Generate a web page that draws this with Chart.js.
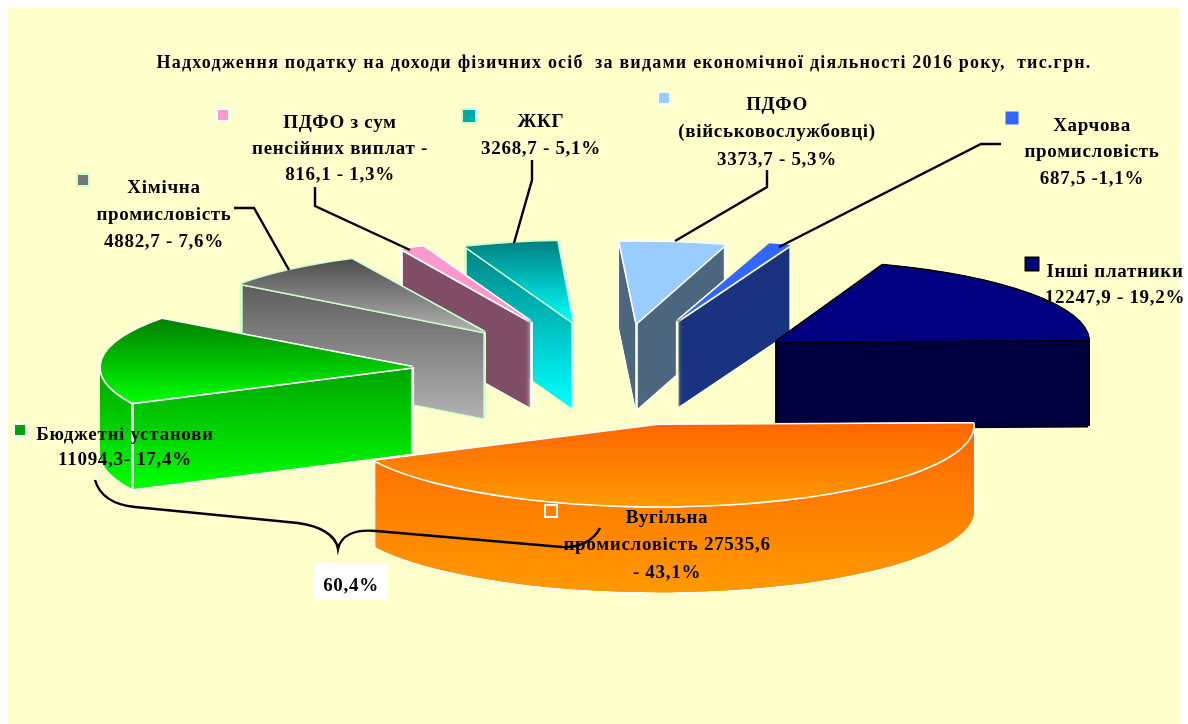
<!DOCTYPE html>
<html>
<head>
<meta charset="utf-8">
<style>
  html, body { margin: 0; padding: 0; background: #fff; }
  canvas { display: block; }
</style>
<script src="https://cdn.jsdelivr.net/npm/chart.js@4/dist/chart.umd.min.js"></script>
</head>
<body>
<canvas id="canvas" width="1188" height="724"></canvas>
<script>
// data, clockwise from the top of the pie
let categories = [
  'ПДФО (військовослужбовці)', 'Харчова промисловість', 'Інші платники',
  'Вугільна промисловість', 'Бюджетні установи', 'Хімічна промисловість',
  'ПДФО з сум пенсійних виплат', 'ЖКГ'
];
let values = [3373.7, 687.5, 12247.9, 27535.6, 11094.3, 4882.7, 816.1, 3268.7];
let shares = [5.3, 1.1, 19.2, 43.1, 17.4, 7.6, 1.3, 5.1];
let bracketShare = 60.4;

let chartTitle = 'Надходження податку на доходи фізичних осіб  за видами економічної діяльності 2016 року,  тис.грн.';

// how each label is wrapped, {v} and {s} get filled from the arrays above
let labelLines = [
  ['ПДФО', '(військовослужбовці)', '{v} - {s}%'],
  ['Харчова', 'промисловість', '{v} -{s}%'],
  ['Інші платники', '{v} - {s}%'],
  ['Вугільна', 'промисловість {v}', '- {s}%'],
  ['Бюджетні установи', '{v}- {s}%'],
  ['Хімічна', 'промисловість', '{v} - {s}%'],
  ['ПДФО з сум', 'пенсійних виплат -', '{v} - {s}%'],
  ['ЖКГ', '{v} - {s}%']
];

// styling of the slices
let topColors  = ['#99ccff', '#3366ff', '#000080', '#ff6600', '#008000', '#4d4d4d', '#ff99cc', '#008080'];
let topColors2 = ['#99ccff', '#3366ff', '#000080', '#ff9900', '#00ff00', '#b2b2b2', '#ff99cc', '#00ffff'];
let wallColors  = ['#4d6680', '#1a3380', '#000040', '#ff6600', '#008000', '#4d4d4d', '#804d66', '#008080'];
let wallColors2 = ['#4d6680', '#1a3380', '#000040', '#ff9900', '#00ff00', '#b2b2b2', '#804d66', '#00ffff'];
let edgeColors = ['#ffffff', '#ffffcc', '#000000', '#ffffff', '#ffffff', '#ccffcc', '#ffffff', '#ccffcc'];
let explode = [190, 205, 201, 210, 200, 199, 210, 196];
// the original has some perspective, these fake it per slice
let sliceWidth = [1.03, 1.07, 1, 1.01, 1, 0.97, 0.95, 0.94];
let nudgeX = [3, 2, 1, -3, 0, 0, 4, 2];
let drawOrder = [7, 6, 5, 4, 0, 1, 2, 3];

// label placing: centre x, first line y, line height
let labelPos = [
  [777, 105, 27.5], [1092, 126, 26.5], [1115, 272, 26], [667, 518, 27.5],
  [125, 435, 25], [164, 188, 27], [340, 123, 26], [541, 122, 27]
];
let markerPos = [[664, 98, 10], [1012, 118, 9], [1032, 264, 11], [551, 511, 10], [20, 430, 10], [83, 180, 10], [223, 115, 10], [469, 116, 12]];
let leaders = [
  [[767, 170], [767, 187], [675, 241]],
  [[1001, 144], [981, 144], [779, 247]],
  [[234, 208], [254, 208], [289, 270]],
  [[315, 187], [315, 206], [410, 250]],
  [[532, 160], [532, 180], [514, 243]]
];

let pie = { x: 612, y: 372, tilt: 0.26, depth: 86 };
let fontName = '"Liberation Serif", "Times New Roman", serif';

function drawArc(ctx, arc, fill) {
  let o = arc.options;
  arc.options = Object.assign({}, o, { backgroundColor: fill, borderWidth: 0 });
  arc.draw(ctx);
  arc.options = o;
}

// draws one slice flattened, dx/dy are screen pixels from the pie centre
function placeArc(ctx, arc, dx, dy, fill, sx) {
  ctx.save();
  ctx.translate(arc.x + dx, arc.y + dy);
  ctx.scale(sx, pie.tilt);
  ctx.translate(-arc.x, -arc.y);
  drawArc(ctx, arc, fill);
  ctx.restore();
}

// vertical gradient given in screen y, for a slice moved by dy
function ramp(ctx, arc, dy, y0, y1, c0, c1) {
  let a = arc.y + (y0 - (arc.y + dy)) / pie.tilt;
  let b = arc.y + (y1 - (arc.y + dy)) / pie.tilt;
  let g = ctx.createLinearGradient(0, a, 0, b);
  g.addColorStop(0, c0);
  g.addColorStop(1, c1);
  return g;
}

let pie3d = {
  id: 'pie3d',
  beforeDraw(chart) {
    let ctx = chart.ctx;
    ctx.save();
    ctx.fillStyle = '#ffffcc';
    ctx.fillRect(8, 8, 1172, 716);
    ctx.restore();
    // stays on for the title, which is drawn next
    ctx.letterSpacing = '1.2px';
  },
  beforeDatasetsDraw(chart) {
    let ctx = chart.ctx;
    ctx.letterSpacing = '0px';
    let arcs = chart.getDatasetMeta(0).data;
    for (let i of drawOrder) {
      let arc = arcs[i];
      let mid = (arc.startAngle + arc.endAngle) / 2;
      let ox = pie.x + Math.cos(mid) * explode[i] + nudgeX[i];
      let oy = pie.y + Math.sin(mid) * explode[i] * pie.tilt;
      let dx = ox - arc.x;
      let dy = oy - arc.y;
      let r = arc.outerRadius;
      let sx = sliceWidth[i];

      // top and bottom of the top face on screen
      let minY = oy, maxY = oy;
      for (let k = 0; k <= 40; k++) {
        let t = arc.startAngle + (arc.endAngle - arc.startAngle) * k / 40;
        let y = oy + Math.sin(t) * r * pie.tilt;
        minY = Math.min(minY, y);
        maxY = Math.max(maxY, y);
      }

      // edge colour first, a bit wider than the block
      let e = edgeColors[i];
      let w = 1.6;
      for (let d = 0; d <= pie.depth; d += 1) {
        placeArc(ctx, arc, dx - w, dy + d, e, sx);
        placeArc(ctx, arc, dx + w, dy + d, e, sx);
      }
      placeArc(ctx, arc, dx, dy + pie.depth + w, e, sx);

      // the block itself, stacked from the bottom up
      // three passes or the thin tips of the slices stay see-through
      for (let d = pie.depth; d > 0; d -= 1) {
        let fill = ramp(ctx, arc, dy + d, minY, maxY + pie.depth, wallColors[i], wallColors2[i]);
        placeArc(ctx, arc, dx - 0.6, dy + d, fill, sx);
        placeArc(ctx, arc, dx + 0.6, dy + d, fill, sx);
        placeArc(ctx, arc, dx, dy + d, fill, sx);
      }

      // corners of the block
      ctx.save();
      ctx.strokeStyle = e;
      ctx.lineWidth = 2.6;
      let corner = Math.cos(mid) >= 0 ? arc.endAngle : arc.startAngle;
      // slices in the back half show a wall on their apex side
      if (Math.sin(mid) < 0 || i === 2 || i === 4) {
        if (i === 4) corner = arc.startAngle;
        ctx.beginPath();
        ctx.moveTo(ox, oy);
        ctx.lineTo(ox, oy + pie.depth);
        ctx.moveTo(ox + Math.cos(corner) * r * sx, oy + Math.sin(corner) * r * pie.tilt);
        ctx.lineTo(ox + Math.cos(corner) * r * sx, oy + Math.sin(corner) * r * pie.tilt + pie.depth);
        ctx.stroke();
      }
      ctx.restore();

      // top face with its edge
      for (let a = 0; a < 8; a++) {
        placeArc(ctx, arc, dx + Math.cos(a * Math.PI / 4) * w, dy + Math.sin(a * Math.PI / 4) * w, e, sx);
      }
      placeArc(ctx, arc, dx, dy, ramp(ctx, arc, dy, minY, maxY, topColors[i], topColors2[i]), sx);
    }
    return false;
  },
  afterDraw(chart) {
    let ctx = chart.ctx;
    ctx.save();

    // leader lines
    ctx.strokeStyle = '#000';
    ctx.lineWidth = 2.4;
    for (let line of leaders) {
      ctx.beginPath();
      line.forEach((p, n) => n ? ctx.lineTo(p[0], p[1]) : ctx.moveTo(p[0], p[1]));
      ctx.stroke();
    }

    // the bracket that adds up coal and budget
    ctx.beginPath();
    ctx.moveTo(95, 480);
    ctx.bezierCurveTo(100, 497, 115, 505, 135, 507);
    ctx.lineTo(298, 523);
    ctx.bezierCurveTo(320, 526, 336, 535, 338, 549);
    ctx.bezierCurveTo(341, 535, 355, 529, 376, 531);
    ctx.lineTo(562, 547);
    ctx.bezierCurveTo(580, 548, 594, 540, 600, 528);
    ctx.stroke();

    // markers
    markerPos.forEach((m, i) => {
      ctx.fillStyle = edgeColors[i] === '#ffffcc' ? topColors[i] : edgeColors[i];
      ctx.fillRect(m[0] - m[2] / 2 - 2, m[1] - m[2] / 2 - 2, m[2] + 4, m[2] + 4);
      ctx.fillStyle = i === 3 ? '#ff8000' : (topColors[i] === topColors2[i] ? topColors[i] : topColors2[i]);
      if (i === 4) ctx.fillStyle = '#00a000';
      if (i === 5) ctx.fillStyle = '#777';
      if (i === 7) ctx.fillStyle = '#00a8a8';
      ctx.fillRect(m[0] - m[2] / 2, m[1] - m[2] / 2, m[2], m[2]);
    });

    // labels
    ctx.fillStyle = '#000';
    ctx.font = 'bold 19px ' + fontName;
    ctx.letterSpacing = '0.7px';
    ctx.textAlign = 'center';
    ctx.textBaseline = 'middle';
    labelLines.forEach((lines, i) => {
      let v = values[i].toFixed(1).replace('.', ',');
      let s = shares[i].toFixed(1).replace('.', ',');
      lines.forEach((txt, n) => {
        ctx.fillText(txt.replace('{v}', v).replace('{s}', s), labelPos[i][0], labelPos[i][1] + n * labelPos[i][2]);
      });
    });

    // box with the total of the bracket
    ctx.fillStyle = '#fff';
    ctx.fillRect(314, 563, 74, 37);
    ctx.fillStyle = '#000';
    ctx.fillText(bracketShare.toFixed(1).replace('.', ',') + '%', 351, 586);
    ctx.restore();
    ctx.letterSpacing = '0px';
  }
};

let chart = new Chart(document.getElementById('canvas'), {
  type: 'pie',
  data: {
    labels: categories,
    datasets: [{
      data: values,
      backgroundColor: topColors,
      borderWidth: 0,
      radius: 312
    }]
  },
  options: {
    responsive: false,
    animation: false,
    rotation: -3,
    layout: { padding: { left: 60, right: 0, top: 0, bottom: 40 } },
    plugins: {
      legend: { display: false },
      tooltip: { enabled: false },
      title: {
        display: true,
        text: chartTitle,
        fullSize: false,
        color: '#000',
        font: { family: fontName, size: 18, weight: 'bold' },
        padding: { top: 53, bottom: 0 }
      }
    }
  },
  plugins: [pie3d]
});
</script>
</body>
</html>
